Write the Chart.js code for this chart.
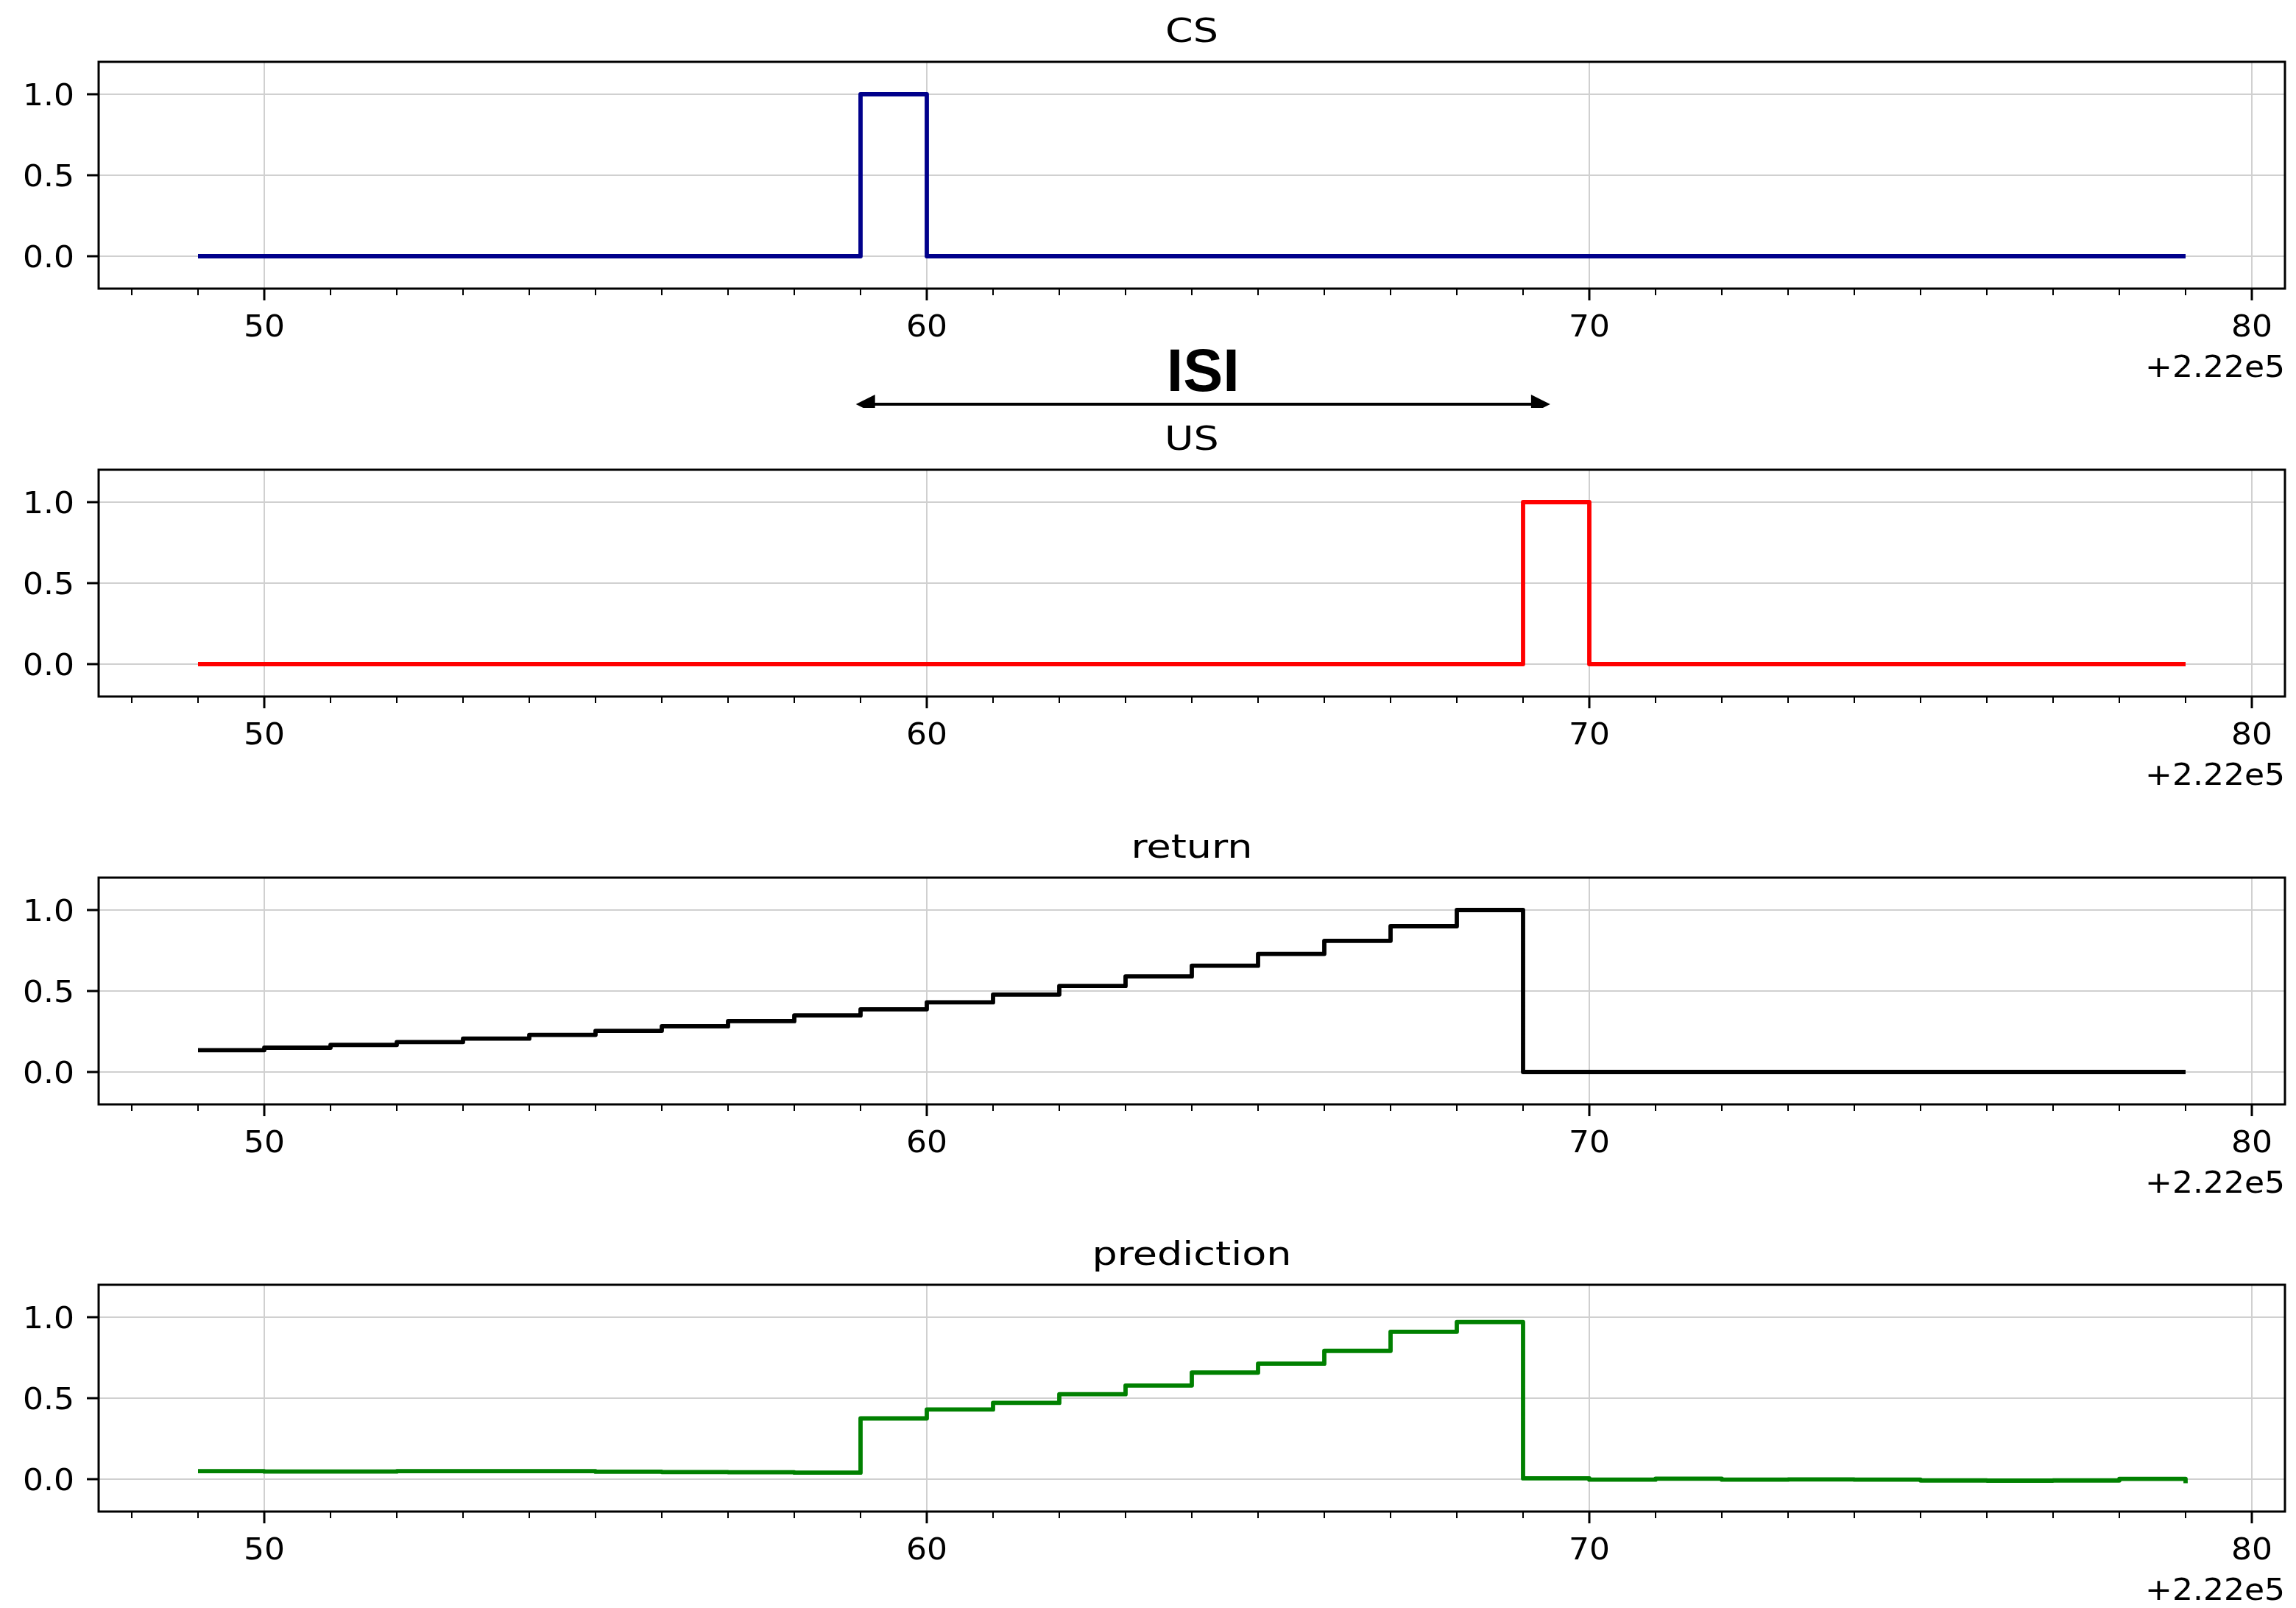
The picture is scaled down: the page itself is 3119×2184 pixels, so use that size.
<!DOCTYPE html>
<html>
<head>
<meta charset="utf-8">
<script src="https://cdn.jsdelivr.net/npm/chart.js@4.4.0/dist/chart.umd.min.js"></script>
<style>
  html, body { margin: 0; padding: 0; background: #fff; overflow: hidden; }
  #wrap { position: relative; width: 3119px; height: 2184px; background: #fff; }
  canvas { position: absolute; left: 0; }
</style>
</head>
<body>
<div id="wrap">
  <canvas id="panel0" width="3119" height="554" style="top:0px"></canvas>
  <canvas id="panel1" width="3119" height="554" style="top:554px"></canvas>
  <canvas id="panel2" width="3119" height="553" style="top:1108px"></canvas>
  <canvas id="panel3" width="3119" height="523" style="top:1661px"></canvas>
</div>
<script>
// time steps (offset from 2.22e5)
var timeSteps = [49, 50, 51, 52, 53, 54, 55, 56, 57, 58, 59, 60, 61, 62, 63, 64,
                 65, 66, 67, 68, 69, 70, 71, 72, 73, 74, 75, 76, 77, 78, 79];

var csValues = [0, 0, 0, 0, 0, 0, 0, 0, 0, 0, 1, 0, 0, 0, 0, 0,
                0, 0, 0, 0, 0, 0, 0, 0, 0, 0, 0, 0, 0, 0, 0];

var usValues = [0, 0, 0, 0, 0, 0, 0, 0, 0, 0, 0, 0, 0, 0, 0, 0,
                0, 0, 0, 0, 1, 0, 0, 0, 0, 0, 0, 0, 0, 0, 0];

var returnValues = [0.135, 0.150, 0.167, 0.185, 0.206, 0.229, 0.254, 0.282, 0.314, 0.349,
                    0.387, 0.430, 0.478, 0.531, 0.590, 0.656, 0.729, 0.810, 0.900, 1.000,
                    0, 0, 0, 0, 0, 0, 0, 0, 0, 0, 0];

var predictionValues = [0.049, 0.047, 0.047, 0.049, 0.049, 0.049, 0.046, 0.044, 0.043, 0.040,
                        0.375, 0.430, 0.471, 0.524, 0.578, 0.658, 0.713, 0.792, 0.910, 0.970,
                        0.005, -0.003, 0.003, -0.003, -0.002, -0.003, -0.008, -0.009, -0.008, 0.002,
                        -0.025];

var panelTitles = ['CS', 'US', 'return', 'prediction'];
var panelColors = ['#00008b', '#ff0000', '#000000', '#008000'];
var panelSeries = [csValues, usValues, returnValues, predictionValues];

var xMajorTicks = [50, 60, 70, 80];
var xMinorTicks = [48, 49, 50, 51, 52, 53, 54, 55, 56, 57, 58, 59, 60, 61, 62, 63, 64,
                   65, 66, 67, 68, 69, 70, 71, 72, 73, 74, 75, 76, 77, 78, 79, 80];
var yTicks = [0, 0.5, 1.0];
var offsetLabel = '+2.22e5';

var isiLabel = 'ISI';
var isiSpan = [58.93, 69.41];

var FONT = 'DejaVu Sans';
var GRID = '#d0d0d0';
var TICK_PX = 40, TICK_STRETCH = 1.1;
var TITLE_PX = 45, TITLE_STRETCH = 1.2;

function isMajor(v) {
    return xMajorTicks.indexOf(v) >= 0;
}

// text in the reference is a bit wider than plain DejaVu, so stretch it
function wideText(ctx, txt, x, y, px, sx, align) {
    ctx.save();
    ctx.font = px + 'px "' + FONT + '"';
    ctx.textAlign = align;
    ctx.textBaseline = 'alphabetic';
    ctx.translate(x, y);
    ctx.scale(sx, 1);
    ctx.fillText(txt, 0, 0);
    ctx.restore();
}

// frame, minor ticks, labels, title, offset text
function decorPlugin(title) {
    return {
        id: 'decor',
        afterDraw: function(chart) {
            var ctx = chart.ctx;
            var a = chart.chartArea;
            var xs = chart.scales.x;
            var ys = chart.scales.y;
            var capH = TICK_PX * 0.729;
            ctx.save();
            ctx.strokeStyle = '#000';
            ctx.fillStyle = '#000';
            ctx.lineWidth = 2;
            for (var i = 0; i < xMinorTicks.length; i++) {
                var v = xMinorTicks[i];
                if (isMajor(v)) continue;
                var px = Math.round(xs.getPixelForValue(v));
                ctx.beginPath();
                ctx.moveTo(px, a.bottom);
                ctx.lineTo(px, a.bottom + 9);
                ctx.stroke();
            }
            ctx.lineWidth = 3;
            ctx.strokeRect(a.left, a.top, a.right - a.left, a.bottom - a.top);

            xs.ticks.forEach(function(t) {
                if (!t.label) return;
                wideText(ctx, t.label, xs.getPixelForValue(t.value), a.bottom + 65,
                         TICK_PX, TICK_STRETCH, 'center');
            });
            ys.ticks.forEach(function(t) {
                wideText(ctx, t.label, a.left - 33, ys.getPixelForValue(t.value) + capH / 2,
                         TICK_PX, TICK_STRETCH, 'right');
            });
            wideText(ctx, offsetLabel, a.right, a.bottom + 120, TICK_PX, TICK_STRETCH, 'right');
            wideText(ctx, title, (a.left + a.right) / 2, a.top - 27, TITLE_PX, TITLE_STRETCH, 'center');
            ctx.restore();
        }
    };
}

// ISI arrow between the CS and US panels
var isiPlugin = {
    id: 'isi',
    afterDraw: function(chart) {
        var ctx = chart.ctx;
        var a = chart.chartArea;
        var xs = chart.scales.x;
        var x1 = xs.getPixelForValue(isiSpan[0]);
        var x2 = xs.getPixelForValue(isiSpan[1]);
        var y = a.bottom + 157;
        var headL = 26, headW = 13;
        ctx.save();
        ctx.strokeStyle = '#000';
        ctx.fillStyle = '#000';
        ctx.lineWidth = 4;
        ctx.beginPath();
        ctx.moveTo(x1 + headL - 2, y);
        ctx.lineTo(x2 - headL + 2, y);
        ctx.stroke();
        ctx.beginPath();
        ctx.moveTo(x1, y);
        ctx.lineTo(x1 + headL, y - headW);
        ctx.lineTo(x1 + headL, y + headW);
        ctx.closePath();
        ctx.fill();
        ctx.beginPath();
        ctx.moveTo(x2, y);
        ctx.lineTo(x2 - headL, y - headW);
        ctx.lineTo(x2 - headL, y + headW);
        ctx.closePath();
        ctx.fill();
        ctx.font = 'bold 81px "Liberation Sans"';
        ctx.textAlign = 'center';
        ctx.textBaseline = 'alphabetic';
        ctx.fillText(isiLabel, (x1 + x2) / 2, a.bottom + 139);
        ctx.restore();
    }
};

function makePanel(idx) {
    var canvas = document.getElementById('panel' + idx);
    var xAxisH = canvas.height - 84 - 308;
    var vals = panelSeries[idx];
    var points = timeSteps.map(function(t, i) { return { x: t, y: vals[i] }; });
    var plugins = [decorPlugin(panelTitles[idx])];
    if (idx === 0) plugins.push(isiPlugin);

    return new Chart(canvas, {
        type: 'line',
        data: {
            datasets: [{
                label: panelTitles[idx],
                data: points,
                borderColor: panelColors[idx],
                borderWidth: 5.8,
                borderJoinStyle: 'round',
                pointRadius: 0,
                stepped: true,
                fill: false
            }]
        },
        options: {
            responsive: false,
            animation: false,
            devicePixelRatio: 1,
            layout: { padding: { left: 0, right: 15, top: 84, bottom: 0 } },
            plugins: {
                legend: { display: false },
                tooltip: { enabled: false },
                title: { display: false }
            },
            scales: {
                x: {
                    type: 'linear',
                    min: 47.5,
                    max: 80.5,
                    afterBuildTicks: function(s) {
                        s.ticks = xMinorTicks.map(function(v) { return { value: v }; });
                    },
                    afterFit: function(s) { s.height = xAxisH; },
                    border: { display: false },
                    grid: {
                        color: function(c) { return isMajor(c.tick.value) ? GRID : 'rgba(0,0,0,0)'; },
                        lineWidth: 2,
                        tickLength: 16,
                        tickWidth: 3,
                        tickColor: function(c) { return isMajor(c.tick.value) ? '#000' : 'rgba(0,0,0,0)'; }
                    },
                    ticks: {
                        display: false,
                        autoSkip: false,
                        maxRotation: 0,
                        callback: function(v) { return isMajor(v) ? String(v) : ''; }
                    }
                },
                y: {
                    min: -0.2,
                    max: 1.2,
                    afterBuildTicks: function(s) {
                        s.ticks = yTicks.map(function(v) { return { value: v }; });
                    },
                    afterFit: function(s) { s.width = 134; },
                    border: { display: false },
                    grid: {
                        color: GRID,
                        lineWidth: 2,
                        tickLength: 16,
                        tickWidth: 3,
                        tickColor: '#000'
                    },
                    ticks: {
                        display: false,
                        callback: function(v) { return Number(v).toFixed(1); }
                    }
                }
            }
        },
        plugins: plugins
    });
}

for (var p = 0; p < 4; p++) {
    makePanel(p);
}
</script>
</body>
</html>
